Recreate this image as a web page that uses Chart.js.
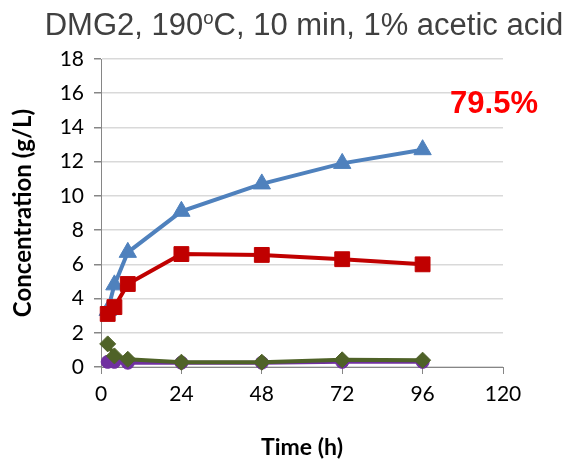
<!DOCTYPE html>
<html>
<head>
<meta charset="utf-8">
<script src="https://cdn.jsdelivr.net/npm/chart.js@4.4.1/dist/chart.umd.min.js"></script>
<style>
  html, body { margin: 0; padding: 0; background: #ffffff; }
  #wrap { position: relative; width: 572px; height: 464px; }
  #chart-title {
    position: absolute; top: 7px; left: 36px; right: 0;
    text-align: center; white-space: nowrap;
    font: 31px "Liberation Sans", Arial, sans-serif; color: #404040;
  }
  #chart-title sup { font-size: 60%; line-height: 0; vertical-align: 0.6em; }
  canvas { position: absolute; left: 0; top: 0; }
</style>
</head>
<body>
<div id="wrap">
  <canvas id="conc-chart" width="572" height="464"></canvas>
  <div id="chart-title">DMG2, 190<sup>o</sup>C, 10 min, 1% acetic acid</div>
</div>
<script>
const TIMES = [2, 4, 8, 24, 48, 72, 96];
const BLUE_VALUES = [3.3, 4.8, 6.7, 9.1, 10.7, 11.9, 12.7];
const RED_VALUES = [3.1, 3.5, 4.85, 6.6, 6.55, 6.3, 6.0];
const GREEN_VALUES = [1.35, 0.65, 0.45, 0.28, 0.28, 0.42, 0.4];
const PURPLE_VALUES = [0.3, 0.3, 0.25, 0.25, 0.25, 0.3, 0.3];

const X_TICKS = [0, 24, 48, 72, 96, 120];
const Y_MAX = 18;
const YIELD_LABEL = '79.5%';

const AXIS_GREY = '#868686';

// ─── Helpers ─────────────────────────────────────────────────────────────────

const toPoints = (values) => values.map((v, i) => ({ x: TIMES[i], y: v }));

const series = (values, color, style, radius, order) => ({
  data: toPoints(values),
  borderColor: color,
  backgroundColor: color,
  borderWidth: 4,
  tension: 0,
  pointStyle: style,
  pointRadius: radius,
  pointHoverRadius: radius,
  pointBorderWidth: 1,
  pointBackgroundColor: color,
  pointBorderColor: color,
  clip: false,
  order,
});

// yield figure in the upper right of the plot
const yieldLabel = {
  id: 'yieldLabel',
  afterDraw(chart) {
    const { ctx, chartArea } = chart;
    ctx.save();
    ctx.font = 'bold 31px "Liberation Sans", Arial, sans-serif';
    ctx.fillStyle = '#ff0000';
    ctx.textAlign = 'center';
    ctx.textBaseline = 'middle';
    ctx.fillText(YIELD_LABEL, chartArea.right - 9, chartArea.top + 45);
    ctx.restore();
  },
};

// ─── Chart ───────────────────────────────────────────────────────────────────

Chart.defaults.font.family = 'Lato';
Chart.defaults.color = '#000000';

new Chart(document.getElementById('conc-chart'), {
  type: 'line',
  data: {
    datasets: [
      series(RED_VALUES, '#c00000', 'rect', 10.5, 1),
      series(BLUE_VALUES, '#4f81bd', 'triangle', 10, 2),
      series(GREEN_VALUES, '#4f6228', 'rectRot', 8, 3),
      series(PURPLE_VALUES, '#7030a0', 'circle', 6.5, 4),
    ],
  },
  options: {
    responsive: false,
    animation: false,
    layout: { padding: { top: 59, right: 69, left: 0, bottom: 0 } },
    plugins: { legend: { display: false }, tooltip: { enabled: false } },
    scales: {
      x: {
        type: 'linear',
        min: X_TICKS[0],
        max: X_TICKS.at(-1),
        afterBuildTicks: (scale) => { scale.ticks = X_TICKS.map((v) => ({ value: v })); },
        afterFit: (scale) => { scale.height = 97; },
        ticks: { font: { size: 21 }, padding: 8, color: '#000' },
        grid: { drawOnChartArea: false, tickLength: 7, tickColor: AXIS_GREY },
        border: { color: AXIS_GREY, width: 1 },
        title: {
          display: true,
          text: 'Time (h)',
          font: { size: 23, weight: 'bold' },
          color: '#000',
          padding: { top: 0, bottom: 3 },
        },
      },
      y: {
        min: 0,
        max: Y_MAX,
        afterFit: (scale) => { scale.width = 101; },
        ticks: { stepSize: 2, font: { size: 21 }, padding: 10, color: '#000' },
        grid: { color: '#d9d9d9', lineWidth: 1.5, tickLength: 7, tickColor: AXIS_GREY },
        border: { color: AXIS_GREY, width: 1 },
        title: {
          display: true,
          text: 'Concentration (g/L)',
          font: { size: 24, weight: 'bold' },
          color: '#000',
          padding: { top: 9, bottom: 0 },
        },
      },
    },
  },
  plugins: [yieldLabel],
});
</script>
</body>
</html>
